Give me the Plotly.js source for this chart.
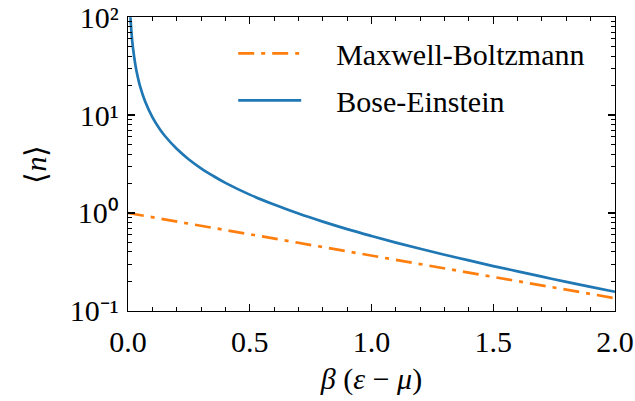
<!DOCTYPE html>
<html>
<head>
<meta charset="utf-8">
<script src="https://cdn.plot.ly/plotly-3.0.1.min.js"></script>
<style>html,body{margin:0;padding:0;background:#fff;}#chart{width:635px;height:401px;}</style>
</head>
<body>
<div id="chart"></div>
<script>
// Bose-Einstein curve, values
const beX = [0.01, 0.015, 0.02, 0.03, 0.04, 0.05, 0.07, 0.1, 0.13, 0.15, 0.2, 0.25, 0.3, 0.35, 0.4, 0.5, 0.6, 0.7, 0.8, 0.9, 1.0, 1.1, 1.2, 1.3, 1.4, 1.5, 1.6, 1.7, 1.8, 1.9, 2.0];
const beY = [99.5, 66.2, 49.5, 32.8, 24.5, 19.5, 13.8, 9.51, 7.20, 6.18, 4.52, 3.52, 2.86, 2.39, 2.03, 1.54, 1.22, 0.986, 0.816, 0.684, 0.582, 0.499, 0.431, 0.375, 0.328, 0.287, 0.254, 0.224, 0.198, 0.176, 0.157];
// Maxwell-Boltzmann line, values
const mbX = [0.0, 0.5, 1.0, 1.5, 2.0];
const mbY = [1.0, 0.607, 0.368, 0.223, 0.135];

const seriesNames = ["Maxwell-Boltzmann", "Bose-Einstein"];
const yTickVals = [0.1, 1, 10, 100];
const yTickText = ["10\u207B\u00B9", "10\u2070", "10\u00B9", "10\u00B2"];
const xTickVals = [0.0, 0.5, 1.0, 1.5, 2.0];
const xTickText = ["0.0", "0.5", "1.0", "1.5", "2.0"];
const yMinorVals = [];
[0.1, 1, 10].forEach(d => { for (let k = 2; k <= 9; k++) yMinorVals.push(d * k); });

const FONT = "Liberation Serif";

const traces = [
  {x: mbX, y: mbY, name: "\u2002\u2002" + seriesNames[0], mode: "lines", legendgroup: "a",
   line: {color: "#ff7f0e", width: 2.7, dash: "16px,7px,4px,7px"}},
  {x: beX, y: beY, name: "\u2002\u2002" + seriesNames[1], mode: "lines", legendgroup: "b",
   line: {color: "#1f77b4", width: 2.7, shape: "spline"}}
];

const axisCommon = {
  showgrid: false, zeroline: false, showline: true, linecolor: "#000", linewidth: 1.2,
  mirror: "ticks", ticks: "inside", ticklen: 7, tickwidth: 1.2, tickcolor: "#000",
  ticklabeloverflow: "allow",
  tickfont: {family: FONT, size: 30, color: "#000"}
};

const layout = {
  width: 635, height: 401,
  margin: {l: 128, r: 20, t: 17, b: 90},
  paper_bgcolor: "#fff", plot_bgcolor: "#fff",
  font: {family: FONT, color: "#000"},
  xaxis: Object.assign({}, axisCommon, {
    range: [0, 2], tickmode: "array", tickvals: xTickVals, ticktext: xTickText,
    ticklabelstandoff: 4,
    minor: {dtick: 0.1, tick0: 0, ticks: "inside", ticklen: 4, tickwidth: 1, tickcolor: "#000"},
    title: {text: "<i>β</i> (<i>ε</i> − <i>μ</i>)", font: {family: FONT, size: 30}, standoff: 10}
  }),
  yaxis: Object.assign({}, axisCommon, {
    type: "log", range: [-1.0002, 2.0002], tickmode: "array", tickvals: yTickVals, ticktext: yTickText,
    ticklabelstandoff: 2,
    minor: {tickmode: "array", tickvals: yMinorVals, ticks: "inside", ticklen: 4, tickwidth: 1, tickcolor: "#000"},
    title: {text: "⟨<i>n</i>⟩", font: {family: FONT, size: 30}, standoff: 14}
  }),
  showlegend: true,
  legend: {
    x: 0.216, y: 0.965, xanchor: "left", yanchor: "top",
    bgcolor: "rgba(0,0,0,0)", borderwidth: 0,
    font: {family: FONT, size: 30, color: "#000"},
    traceorder: "grouped", tracegroupgap: 5, itemwidth: 63
  }
};

Plotly.newPlot("chart", traces, layout, {displayModeBar: false, staticPlot: true});
</script>
</body>
</html>
